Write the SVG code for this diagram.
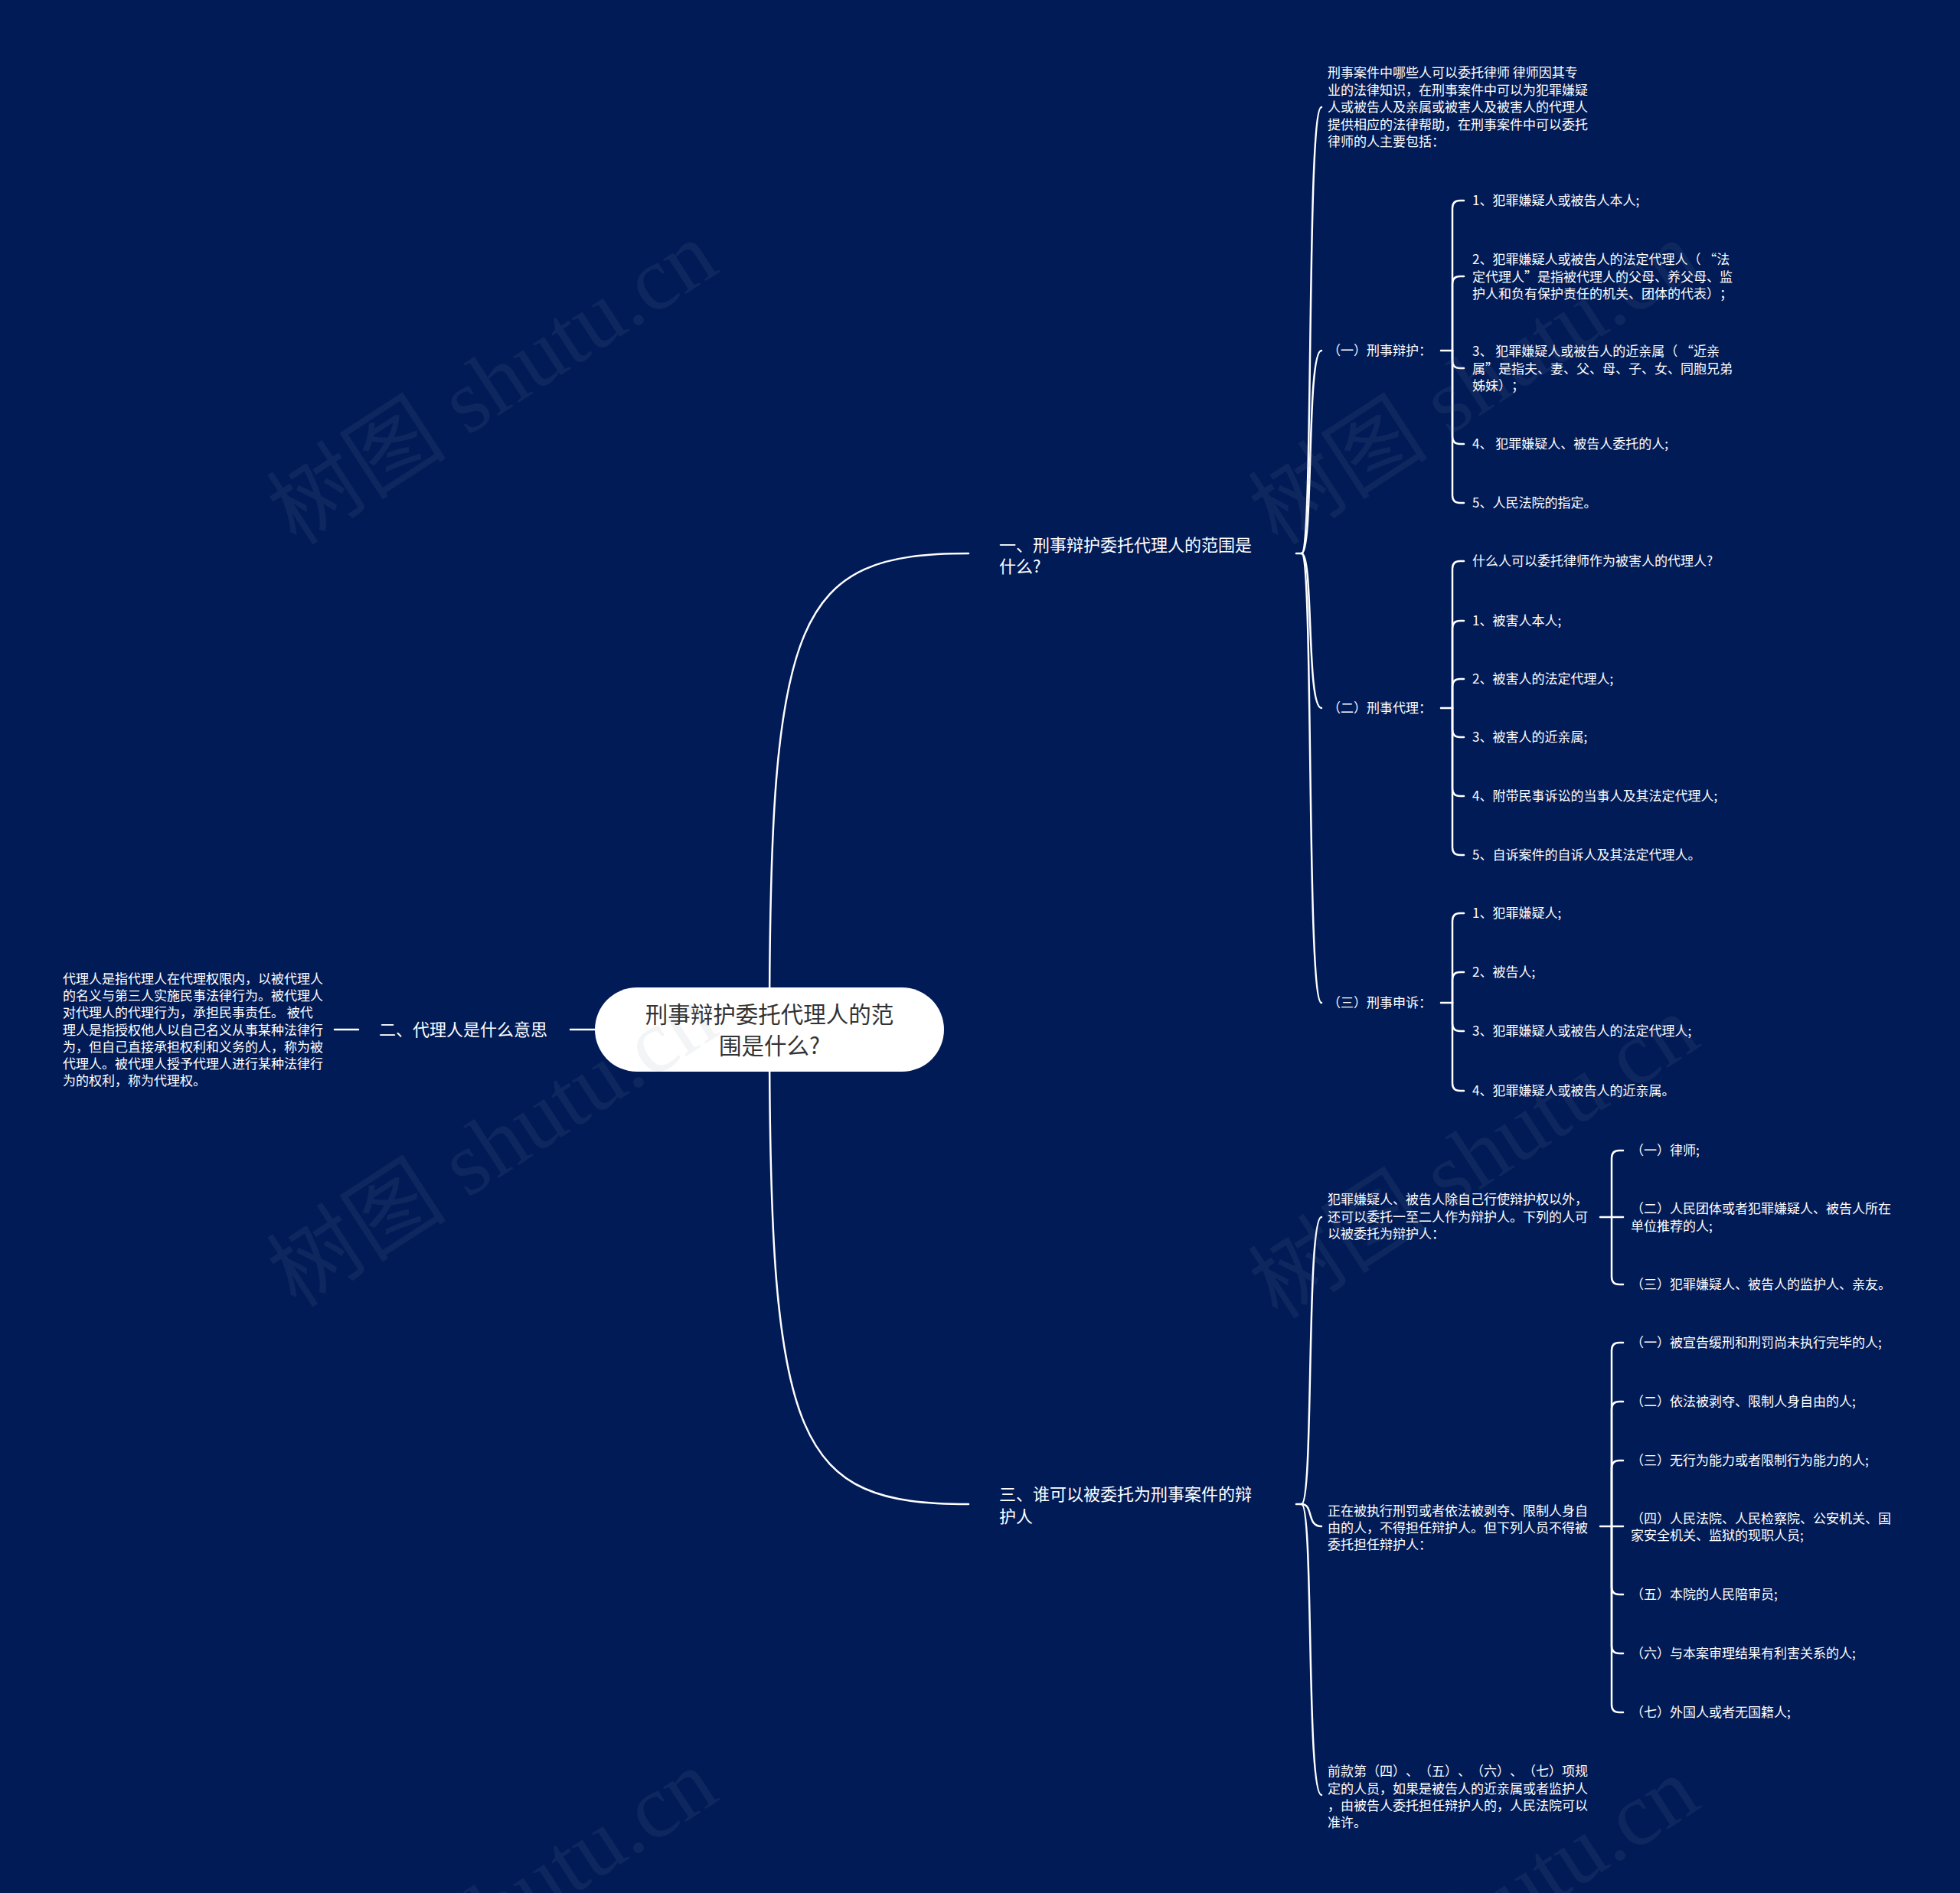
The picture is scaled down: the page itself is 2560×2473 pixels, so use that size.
<svg xmlns="http://www.w3.org/2000/svg" width="2560" height="2473" viewBox="0 0 2560 2473">
<style>
.ln{fill:none;stroke:#ffffff;stroke-width:2.5;stroke-linecap:round;stroke-linejoin:round}
.t{font-family:"Noto Sans CJK SC","Noto Sans",sans-serif;fill:#ffffff;font-size:17px;text-spacing-trim:space-all}
.b{font-size:22px}
.r{font-family:"Noto Sans CJK SC","Noto Sans",sans-serif;fill:#333333;font-size:29.5px;text-anchor:middle}
.wm{font-family:"Liberation Serif","Noto Sans CJK SC",serif;font-size:118px;fill:#8a90a4;fill-opacity:0.1}
</style>
<rect x="0" y="0" width="2560" height="2473" fill="#011b57"/>
<g id="connectors">
<path class="ln" d="M1005,1345 C1005,800 1040,723 1265,723"/>
<path class="ln" d="M1005,1345 C1005,1890 1040,1965 1265,1965"/>
<path class="ln" d="M745,1345 H777"/>
<path class="ln" d="M437,1345 H468"/>
<path class="ln" d="M1693,723 H1700"/>
<path class="ln" d="M1700,723 C1716,723 1706,140 1726,140"/>
<path class="ln" d="M1700,723 C1716,723 1706,458 1726,458"/>
<path class="ln" d="M1700,723 C1716,723 1706,925 1726,925"/>
<path class="ln" d="M1700,723 C1716,723 1706,1310 1726,1310"/>
<path class="ln" d="M1693,1965 H1700"/>
<path class="ln" d="M1700,1965 C1716,1965 1706,1590 1726,1590"/>
<path class="ln" d="M1700,1965 C1716,1965 1706,1994 1726,1994"/>
<path class="ln" d="M1700,1965 C1716,1965 1706,2345 1726,2345"/>
<path class="ln" d="M1882,458 H1897"/>
<path class="ln" d="M1897,458 V272 Q1897,262 1907,262 H1912"/>
<path class="ln" d="M1897,458 V371 Q1897,361 1907,361 H1912"/>
<path class="ln" d="M1897,458 V471 Q1897,481 1907,481 H1912"/>
<path class="ln" d="M1897,458 V570 Q1897,580 1907,580 H1912"/>
<path class="ln" d="M1897,458 V647 Q1897,657 1907,657 H1912"/>
<path class="ln" d="M1882,925 H1897"/>
<path class="ln" d="M1897,925 V743 Q1897,733 1907,733 H1912"/>
<path class="ln" d="M1897,925 V821 Q1897,811 1907,811 H1912"/>
<path class="ln" d="M1897,925 V897 Q1897,887 1907,887 H1912"/>
<path class="ln" d="M1897,925 V953 Q1897,963 1907,963 H1912"/>
<path class="ln" d="M1897,925 V1030 Q1897,1040 1907,1040 H1912"/>
<path class="ln" d="M1897,925 V1107 Q1897,1117 1907,1117 H1912"/>
<path class="ln" d="M1882,1310 H1897"/>
<path class="ln" d="M1897,1310 V1203 Q1897,1193 1907,1193 H1912"/>
<path class="ln" d="M1897,1310 V1280 Q1897,1270 1907,1270 H1912"/>
<path class="ln" d="M1897,1310 V1337 Q1897,1347 1907,1347 H1912"/>
<path class="ln" d="M1897,1310 V1415 Q1897,1425 1907,1425 H1912"/>
<path class="ln" d="M2090,1590 H2105"/>
<path class="ln" d="M2105,1590 V1513 Q2105,1503 2115,1503 H2120"/>
<path class="ln" d="M2105,1590 H2120"/>
<path class="ln" d="M2105,1590 V1668 Q2105,1678 2115,1678 H2120"/>
<path class="ln" d="M2090,1994 H2105"/>
<path class="ln" d="M2105,1994 V1764 Q2105,1754 2115,1754 H2120"/>
<path class="ln" d="M2105,1994 V1841 Q2105,1831 2115,1831 H2120"/>
<path class="ln" d="M2105,1994 V1918 Q2105,1908 2115,1908 H2120"/>
<path class="ln" d="M2105,1994 H2120"/>
<path class="ln" d="M2105,1994 V2073 Q2105,2083 2115,2083 H2120"/>
<path class="ln" d="M2105,1994 V2150 Q2105,2160 2115,2160 H2120"/>
<path class="ln" d="M2105,1994 V2227 Q2105,2237 2115,2237 H2120"/>
</g>
<g id="root">
<rect x="777" y="1290" width="456" height="110" rx="55" ry="55" fill="#ffffff"/>
<text class="r" x="1005" y="1336">刑事辩护委托代理人的范</text>
<text class="r" x="1005" y="1377">围是什么?</text>
</g>
<g id="b1"><text class="t b" x="1305" y="720">一、刑事辩护委托代理人的范围是</text><text class="t b" x="1305" y="748">什么?</text></g>
<g id="b2"><text class="t b" x="495" y="1353">二、代理人是什么意思</text></g>
<g id="b3"><text class="t b" x="1305" y="1960">三、谁可以被委托为刑事案件的辩</text><text class="t b" x="1305" y="1989">护人</text></g>
<g id="b2-text">
<text class="t" x="82" y="1285">代理人是指代理人在代理权限内，以被代理人</text>
<text class="t" x="82" y="1307">的名义与第三人实施民事法律行为。被代理人</text>
<text class="t" x="82" y="1329">对代理人的代理行为，承担民事责任。 被代</text>
<text class="t" x="82" y="1352">理人是指授权他人以自己名义从事某种法律行</text>
<text class="t" x="82" y="1374">为，但自己直接承担权利和义务的人，称为被</text>
<text class="t" x="82" y="1396">代理人。被代理人授予代理人进行某种法律行</text>
<text class="t" x="82" y="1418">为的权利，称为代理权。</text>
</g>
<g id="b1-intro">
<text class="t" x="1734" y="101">刑事案件中哪些人可以委托律师 律师因其专</text>
<text class="t" x="1734" y="123.5">业的法律知识，在刑事案件中可以为犯罪嫌疑</text>
<text class="t" x="1734" y="146">人或被告人及亲属或被害人及被害人的代理人</text>
<text class="t" x="1734" y="168.5">提供相应的法律帮助，在刑事案件中可以委托</text>
<text class="t" x="1734" y="191">律师的人主要包括：</text>
</g>
<g id="b1-1"><text class="t" x="1734" y="464">（一）刑事辩护：</text></g>
<g id="b1-1-1"><text class="t" x="1923" y="268">1、犯罪嫌疑人或被告人本人;</text></g>
<g id="b1-1-2">
<text class="t" x="1923" y="345">2、犯罪嫌疑人或被告人的法定代理人（ “法</text>
<text class="t" x="1923" y="367.5">定代理人”是指被代理人的父母、养父母、监</text>
<text class="t" x="1923" y="390">护人和负有保护责任的机关、团体的代表）；</text>
</g>
<g id="b1-1-3">
<text class="t" x="1923" y="465">3、 犯罪嫌疑人或被告人的近亲属（ “近亲</text>
<text class="t" x="1923" y="487.5">属”是指夫、妻、父、母、子、女、同胞兄弟</text>
<text class="t" x="1923" y="510">姊妹）；</text>
</g>
<g id="b1-1-4"><text class="t" x="1923" y="586">4、 犯罪嫌疑人、被告人委托的人;</text></g>
<g id="b1-1-5"><text class="t" x="1923" y="663">5、人民法院的指定。</text></g>
<g id="b1-2"><text class="t" x="1734" y="931">（二）刑事代理：</text></g>
<g id="b1-2-0"><text class="t" x="1923" y="739">什么人可以委托律师作为被害人的代理人?</text></g>
<g id="b1-2-1"><text class="t" x="1923" y="817">1、被害人本人;</text></g>
<g id="b1-2-2"><text class="t" x="1923" y="893">2、被害人的法定代理人;</text></g>
<g id="b1-2-3"><text class="t" x="1923" y="969">3、被害人的近亲属;</text></g>
<g id="b1-2-4"><text class="t" x="1923" y="1046">4、附带民事诉讼的当事人及其法定代理人;</text></g>
<g id="b1-2-5"><text class="t" x="1923" y="1123">5、自诉案件的自诉人及其法定代理人。</text></g>
<g id="b1-3"><text class="t" x="1734" y="1316">（三）刑事申诉：</text></g>
<g id="b1-3-1"><text class="t" x="1923" y="1199">1、犯罪嫌疑人;</text></g>
<g id="b1-3-2"><text class="t" x="1923" y="1276">2、被告人;</text></g>
<g id="b1-3-3"><text class="t" x="1923" y="1353">3、犯罪嫌疑人或被告人的法定代理人;</text></g>
<g id="b1-3-4"><text class="t" x="1923" y="1431">4、犯罪嫌疑人或被告人的近亲属。</text></g>
<g id="b3-1">
<text class="t" x="1734" y="1573">犯罪嫌疑人、被告人除自己行使辩护权以外，</text>
<text class="t" x="1734" y="1595.5">还可以委托一至二人作为辩护人。下列的人可</text>
<text class="t" x="1734" y="1618">以被委托为辩护人：</text>
</g>
<g id="b3-1-1"><text class="t" x="2130" y="1509">（一）律师;</text></g>
<g id="b3-1-2"><text class="t" x="2130" y="1585">（二）人民团体或者犯罪嫌疑人、被告人所在</text><text class="t" x="2130" y="1608">单位推荐的人;</text></g>
<g id="b3-1-3"><text class="t" x="2130" y="1684">（三）犯罪嫌疑人、被告人的监护人、亲友。</text></g>
<g id="b3-2">
<text class="t" x="1734" y="1980">正在被执行刑罚或者依法被剥夺、限制人身自</text>
<text class="t" x="1734" y="2002">由的人，不得担任辩护人。但下列人员不得被</text>
<text class="t" x="1734" y="2024">委托担任辩护人：</text>
</g>
<g id="b3-2-1"><text class="t" x="2130" y="1760">（一）被宣告缓刑和刑罚尚未执行完毕的人;</text></g>
<g id="b3-2-2"><text class="t" x="2130" y="1837">（二）依法被剥夺、限制人身自由的人;</text></g>
<g id="b3-2-3"><text class="t" x="2130" y="1914">（三）无行为能力或者限制行为能力的人;</text></g>
<g id="b3-2-4"><text class="t" x="2130" y="1990">（四）人民法院、人民检察院、公安机关、国</text><text class="t" x="2130" y="2012">家安全机关、监狱的现职人员;</text></g>
<g id="b3-2-5"><text class="t" x="2130" y="2089">（五）本院的人民陪审员;</text></g>
<g id="b3-2-6"><text class="t" x="2130" y="2166">（六）与本案审理结果有利害关系的人;</text></g>
<g id="b3-2-7"><text class="t" x="2130" y="2243">（七）外国人或者无国籍人;</text></g>
<g id="b3-3">
<text class="t" x="1734" y="2320">前款第（四）、（五）、（六）、（七）项规</text>
<text class="t" x="1734" y="2343">定的人员，如果是被告人的近亲属或者监护人</text>
<text class="t" x="1734" y="2365">，由被告人委托担任辩护人的，人民法院可以</text>
<text class="t" x="1734" y="2387">准许。</text>
</g>
<g id="watermarks">
<text class="wm" x="665" y="534" text-anchor="middle" transform="rotate(-33 665 534)">树图 shutu.cn</text>
<text class="wm" x="1947" y="534" text-anchor="middle" transform="rotate(-33 1947 534)">树图 shutu.cn</text>
<text class="wm" x="665" y="1530" text-anchor="middle" transform="rotate(-33 665 1530)">树图 shutu.cn</text>
<text class="wm" x="1947" y="1545" text-anchor="middle" transform="rotate(-33 1947 1545)">树图 shutu.cn</text>
<text class="wm" x="665" y="2530" text-anchor="middle" transform="rotate(-33 665 2530)">树图 shutu.cn</text>
<text class="wm" x="1947" y="2540" text-anchor="middle" transform="rotate(-33 1947 2540)">树图 shutu.cn</text>
</g>
</svg>
